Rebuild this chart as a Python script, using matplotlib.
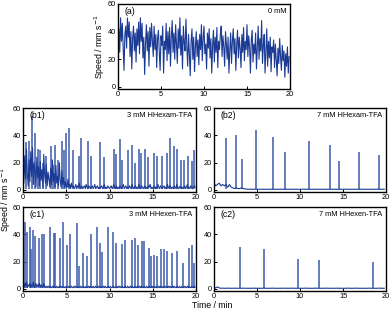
import matplotlib
matplotlib.use('Agg')
import matplotlib.pyplot as plt
import numpy as np

plt.rcParams['font.family'] = ['Liberation Sans', 'DejaVu Sans']

# ---- data ----
# (a) 0 mM: speed sampled every 0.1 min
a_speed = [
    30, 42, 25, 50, 33, 46, 28, 12, 38, 44,
    28, 50, 36, 47, 22, 40, 13, 35, 44, 26,
    39, 18, 42, 30, 47, 24, 50, 33, 46, 21,
    36, 9, 31, 45, 26, 40, 15, 43, 29, 46,
    33, 22, 44, 27, 38, 14, 35, 41, 25, 12,
    37, 30, 44, 10, 33, 27, 46, 19, 40, 24,
    43, 15, 36, 48, 25, 39, 20, 45, 31, 17,
    42, 28, 50, 23, 37, 13, 44, 32, 26, 49,
    30, 15, 38, 24, 8, 33, 42, 20, 36, 11,
    29, 40, 22, 34, 16, 38, 27, 45, 19, 35,
    44, 24, 31, 13, 39, 28, 42, 21, 35, 10,
    30, 41, 18, 36, 25, 43, 14, 33, 27, 38,
    44, 22, 37, 29, 15, 40, 31, 20, 36, 10,
    27, 39, 17, 33, 42, 24, 35, 12, 30, 41,
    21, 36, 28, 14, 38, 25, 43, 19, 33, 27,
    45, 22, 37, 29, 10, 34, 41, 18, 31, 24,
    39, 13, 28, 44, 20, 35, 26, 48, 17, 30,
    38, 10, 27, 42, 15, 33, 21, 36, 11, 29,
    25, 34, 14, 31, 20, 8, 28, 17, 35, 22,
    12, 30, 19, 26, 7, 24, 15, 29, 10, 22,
]

# (b1) 3 mM HHexam-TFA: baseline every 0.1 min + spikes
b1_base = [
    18, 5, 25, 8, 30, 12, 3, 22, 6, 28,
    10, 31, 4, 20, 14, 2, 24, 9, 17, 3,
    21, 7, 15, 2, 26, 11, 5, 19, 3, 13,
    8, 2, 16, 4, 22, 6, 12, 2, 18, 5,
    10, 3, 20, 7, 2, 14, 4, 9, 2, 6,
    3, 2, 8, 2, 4, 1, 5, 2, 3, 1,
    2, 4, 1, 3, 2, 5, 1, 2, 3, 1,
    2, 3, 1, 4, 2, 1, 3, 2, 1, 2,
    3, 1, 2, 4, 1, 2, 3, 1, 2, 1,
    2, 3, 1, 2, 4, 1, 2, 1, 3, 2,
    1, 2, 3, 1, 2, 4, 2, 1, 3, 1,
    2, 1, 3, 2, 1, 2, 4, 1, 2, 3,
    1, 2, 1, 3, 2, 1, 4, 2, 1, 2,
    3, 1, 2, 1, 4, 2, 1, 3, 2, 1,
    2, 3, 1, 2, 1, 3, 2, 4, 1, 2,
    1, 2, 3, 1, 2, 1, 4, 2, 1, 3,
    2, 1, 2, 3, 1, 2, 1, 4, 2, 1,
    3, 2, 1, 2, 1, 3, 2, 1, 4, 2,
    1, 2, 3, 1, 2, 1, 2, 3, 1, 2,
    4, 1, 2, 1, 3, 2, 1, 2, 3, 2,
]
b1_peak_t = [0.3, 0.65, 1.0, 1.35, 1.7, 2.0, 2.3, 2.7, 3.2, 3.5, 3.75, 4.1,
             4.5, 4.7, 5.0, 5.3, 5.8, 6.45, 6.65, 7.5, 7.9, 8.9, 9.4, 10.5,
             10.8, 11.2, 11.4, 12.1, 12.6, 12.9, 13.4, 13.6, 14.1, 14.5,
             15.2, 15.5, 16.1, 16.6, 17.0, 17.4, 17.8, 18.3, 18.6, 19.1,
             19.5, 19.8]
b1_peak_v = [35, 36, 54, 42, 30, 29, 20, 25, 32, 18, 33, 22,
             36, 29, 42, 45, 29, 25, 38, 36, 25, 35, 24, 30,
             26, 37, 22, 29, 33, 20, 30, 27, 30, 24,
             27, 25, 25, 27, 38, 32, 30, 22, 22, 25,
             21, 29]

# (b2) 7 mM HHexam-TFA: baseline every 0.2 min + spikes
b2_base = [
    5, 3, 4, 5, 3, 4, 3, 4, 2, 4,
    2, 1.5, 1, 1.5, 1, 1, 1.5, 1, 0.8, 0.6,
    0.5, 0.6, 0.5, 0.5, 0.6, 0.5, 0.5, 0.5, 0.6, 0.5,
    0.5, 0.5, 0.5, 0.6, 0.5, 0.5, 0.5, 0.5, 0.5, 0.6,
    0.5, 0.5, 0.5, 0.5, 0.5, 0.6, 0.5, 0.5, 0.5, 0.5,
    0.5, 0.5, 0.6, 0.5, 0.5, 0.5, 0.5, 0.5, 0.5, 0.5,
    0.6, 0.5, 0.5, 0.5, 0.5, 0.5, 0.5, 0.5, 0.5, 0.6,
    0.5, 0.5, 0.5, 0.5, 0.5, 0.5, 0.5, 0.6, 0.5, 0.5,
    0.5, 0.5, 0.5, 0.5, 0.5, 0.5, 0.6, 0.5, 0.5, 0.5,
    0.5, 0.5, 0.5, 0.5, 0.5, 0.6, 0.5, 0.5, 0.5, 0.5,
]
b2_peak_t = [1.4, 2.55, 3.3, 4.9, 6.85, 8.2, 11.1, 13.5, 14.55, 16.85, 19.2]
b2_peak_v = [38, 40, 23, 44, 39, 27.5, 35.5, 33, 21, 28, 25.5]

# (c1) 3 mM HHexen-TFA: baseline every 0.1 min + spikes
c1_base = [
    3, 1, 4, 2, 5, 1, 3, 2, 4, 1,
    3, 2, 5, 1, 2, 4, 1, 3, 2, 4,
    1, 3, 2, 1, 4, 2, 1, 2, 1, 2,
    1, 2, 1, 1, 2, 1, 2, 1, 1, 2,
    1, 1, 2, 1, 2, 1, 1, 2, 1, 1,
    2, 1, 1, 2, 1, 1, 2, 1, 1, 2,
    1, 2, 1, 1, 2, 1, 1, 2, 1, 1,
    2, 1, 1, 2, 1, 1, 2, 1, 2, 1,
    1, 2, 1, 1, 2, 1, 1, 2, 1, 1,
    2, 1, 1, 2, 1, 2, 1, 1, 2, 1,
    1, 2, 1, 1, 2, 1, 1, 2, 1, 1,
    2, 1, 2, 1, 1, 2, 1, 1, 2, 1,
    1, 2, 1, 1, 2, 1, 2, 1, 1, 2,
    1, 1, 2, 1, 1, 2, 1, 2, 1, 1,
    2, 1, 1, 2, 1, 1, 2, 1, 1, 2,
    1, 2, 1, 1, 2, 1, 1, 2, 1, 2,
    1, 1, 2, 1, 1, 2, 1, 1, 2, 1,
    2, 1, 1, 2, 1, 2, 1, 1, 2, 1,
    1, 2, 1, 1, 2, 1, 1, 2, 1, 1,
    2, 1, 2, 1, 1, 2, 1, 1, 2, 1,
]
c1_peak_t = [0.27, 0.46, 0.77, 0.97, 1.12, 1.43, 1.9, 2.2, 2.4, 3.1, 3.55,
             3.75, 4.25, 4.65, 5.1, 5.45, 6.2, 6.5, 6.9, 7.35, 7.9, 8.6,
             8.9, 9.15, 9.8, 10.4, 10.7, 11.4, 11.75, 12.65, 12.95, 13.35,
             13.75, 14.0, 14.6, 14.8, 15.2, 15.5, 15.95, 16.25, 16.6, 17.2,
             17.75, 18.45, 19.15, 19.5, 19.75]
c1_peak_v = [49, 42, 45, 29, 43, 39, 37, 40, 40, 45, 41,
             41, 37, 49, 32, 40, 48, 17, 26, 24, 40, 45,
             34, 27, 45, 42, 34, 33, 36, 36, 37, 32,
             35, 35, 30, 24, 25, 24, 29, 29, 28, 26,
             28, 19, 30, 32, 19]

# (c2) 7 mM HHexen-TFA: baseline every 0.2 min + spikes
c2_base = [
    0.5, 0.8, 1.5, 0.8, 0.5, 0.6, 0.5, 0.5, 0.6, 0.5,
    0.5, 0.5, 0.6, 0.5, 0.5, 0.5, 0.5, 0.6, 0.5, 0.5,
    0.5, 0.5, 0.5, 0.6, 0.5, 0.5, 0.5, 0.5, 0.5, 0.6,
    0.5, 0.5, 0.5, 0.5, 0.6, 0.5, 0.5, 0.5, 0.5, 0.5,
    0.6, 0.5, 0.5, 0.5, 0.5, 0.5, 0.6, 0.5, 0.5, 0.5,
    0.5, 0.5, 0.5, 0.6, 0.5, 0.5, 0.5, 0.5, 0.5, 0.6,
    0.5, 0.5, 0.5, 0.5, 0.5, 0.6, 0.5, 0.5, 0.5, 0.5,
    0.5, 0.6, 0.5, 0.5, 0.5, 0.5, 0.5, 0.5, 0.6, 0.5,
    0.5, 0.5, 0.5, 0.6, 0.5, 0.5, 0.5, 0.5, 0.5, 0.5,
    0.6, 0.5, 0.5, 0.5, 0.5, 0.5, 0.6, 0.5, 0.5, 0.5,
]
c2_peak_t = [3.0, 5.8, 9.75, 12.2, 18.5]
c2_peak_v = [31, 29.5, 22, 21, 20]

labels = ['(a)', '(b1)', '(b2)', '(c1)', '(c2)']
conds = ['0 mM', '3 mM HHexam-TFA', '7 mM HHexam-TFA',
         '3 mM HHexen-TFA', '7 mM HHexen-TFA']

line_c = '#1b3a94'
spike_c = '#3c5aac'
fs_tick = 5.3
fs_lab = 6.3

W, H = 392, 312
fig = plt.figure(figsize=(W / 100, H / 100), dpi=100)

def box(l, t, r, b):
    return [l / W, 1 - b / H, (r - l) / W, (b - t) / H]

ax_a = fig.add_axes(box(118, 4, 290, 89))
ax_b1 = fig.add_axes(box(23, 108, 196, 192))
ax_b2 = fig.add_axes(box(214, 108, 386, 192))
ax_c1 = fig.add_axes(box(23, 207, 196, 291))
ax_c2 = fig.add_axes(box(214, 207, 386, 291))
axes = [ax_a, ax_b1, ax_b2, ax_c1, ax_c2]

def style(ax, lab, cond):
    ax.set_xlim(0, 20)
    ax.set_ylim(-1.5, 60)
    ax.set_xticks([0, 5, 10, 15, 20])
    ax.set_yticks([0, 20, 40, 60])
    ax.tick_params(direction='in', length=2.5, width=0.7, labelsize=fs_tick, pad=1.2)
    for s in ax.spines.values():
        s.set_linewidth(1.0)
    ax.text(0.035, 0.96, lab, transform=ax.transAxes, fontsize=fs_lab,
            ha='left', va='top')
    ax.text(0.98, 0.95, cond, transform=ax.transAxes, fontsize=fs_tick,
            ha='right', va='top')

# (a)
t_a = np.arange(len(a_speed)) * 0.1
ax_a.plot(t_a, a_speed, color=line_c, lw=0.8)
ax_a.set_ylabel('Speed / mm s$^{-1}$', fontsize=fs_lab, labelpad=1)

def spikes(ax, base, dt, pt, pv):
    t = np.arange(len(base)) * dt
    ax.vlines(pt, 0.5, pv, color=spike_c, lw=1.1)
    ax.plot(t, base, color=line_c, lw=0.8)

spikes(ax_b1, b1_base, 0.1, b1_peak_t, b1_peak_v)
spikes(ax_b2, b2_base, 0.2, b2_peak_t, b2_peak_v)
spikes(ax_c1, c1_base, 0.1, c1_peak_t, c1_peak_v)
spikes(ax_c2, c2_base, 0.2, c2_peak_t, c2_peak_v)

for ax, lab, cond in zip(axes, labels, conds):
    style(ax, lab, cond)

fig.text(6 / W, 1 - 200 / H, 'Speed / mm s$^{-1}$', rotation=90,
         fontsize=fs_lab, ha='center', va='center')
fig.text(212 / W, 1 - 306 / H, 'Time / min', fontsize=fs_lab,
         ha='center', va='center')

fig.savefig('out.png', dpi=100)
